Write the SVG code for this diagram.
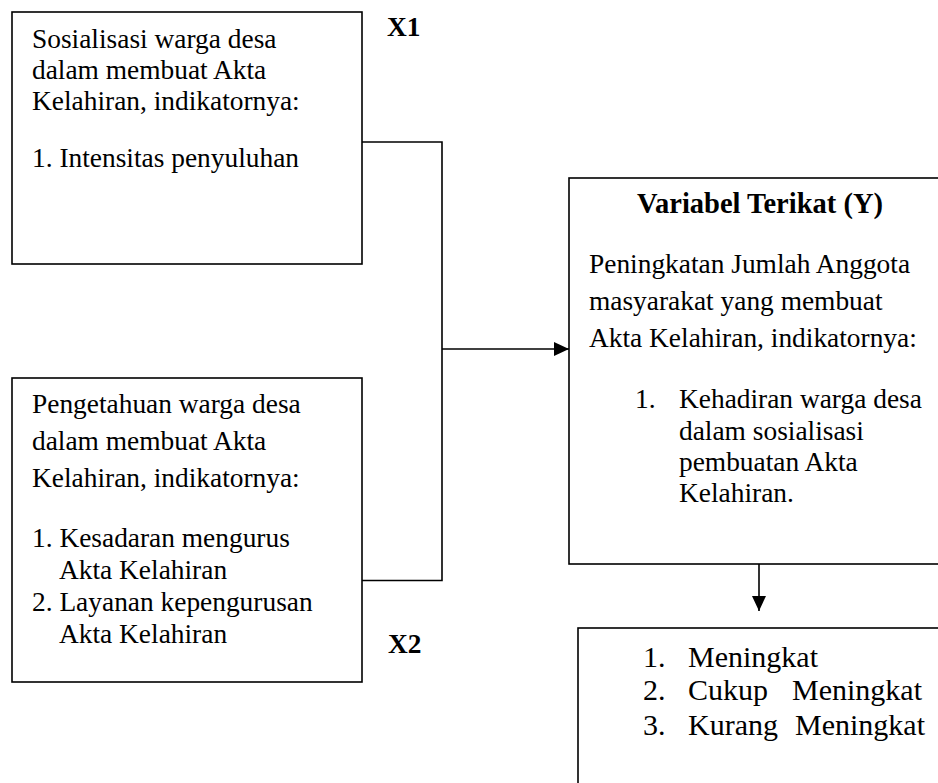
<svg xmlns="http://www.w3.org/2000/svg" width="938" height="783" viewBox="0 0 938 783">
<style>
.box{fill:#fff;stroke:#000;stroke-width:1.6}
.t{font-family:"Liberation Serif","Times New Roman",serif;font-size:27.4px;fill:#000}
.b{font-weight:bold}
.h{font-size:28.5px}
.big{font-size:30px}
.ln{fill:none;stroke:#000;stroke-width:1.6}
</style>
<defs>
<marker id="ah" markerWidth="16" markerHeight="14" refX="15" refY="7" orient="auto" markerUnits="userSpaceOnUse">
<path d="M0,0 L15,7 L0,14 Z" fill="#000"/>
</marker>
</defs>
<rect width="938" height="783" fill="#fff"/>
<g id="connectors">
<path class="ln" d="M362,142 H442 V580.5 H362"/>
<line class="ln" x1="442" y1="349" x2="569" y2="349" marker-end="url(#ah)"/>
<line class="ln" x1="759" y1="564" x2="759" y2="611" marker-end="url(#ah)"/>
</g>
<g id="x1">
<rect class="box" x="12" y="12" width="350" height="252"/>
<text class="t" x="32" y="48">Sosialisasi warga desa</text>
<text class="t" x="32" y="79">dalam membuat Akta</text>
<text class="t" x="32" y="110">Kelahiran, indikatornya:</text>
<text class="t" x="32" y="167">1. Intensitas penyuluhan</text>
</g>
<g id="label-x1"><text class="t b" x="387" y="36">X1</text></g>
<g id="x2">
<rect class="box" x="12" y="378" width="350" height="304"/>
<text class="t" x="32" y="413">Pengetahuan warga desa</text>
<text class="t" x="32" y="450">dalam membuat Akta</text>
<text class="t" x="32" y="487">Kelahiran, indikatornya:</text>
<text class="t" x="32" y="547">1. Kesadaran mengurus</text>
<text class="t" x="59" y="579">Akta Kelahiran</text>
<text class="t" x="32" y="611">2. Layanan kepengurusan</text>
<text class="t" x="59" y="643">Akta Kelahiran</text>
</g>
<g id="label-x2"><text class="t b" x="388" y="653">X2</text></g>
<g id="y">
<rect class="box" x="569" y="178" width="400" height="386"/>
<text class="t b h" x="760" y="213" text-anchor="middle">Variabel Terikat (Y)</text>
<text class="t" x="589" y="273">Peningkatan Jumlah Anggota</text>
<text class="t" x="589" y="310">masyarakat yang membuat</text>
<text class="t" x="589" y="347">Akta Kelahiran, indikatornya:</text>
<text class="t" x="635" y="408">1.</text>
<text class="t" x="679" y="408">Kehadiran warga desa</text>
<text class="t" x="679" y="440">dalam sosialisasi</text>
<text class="t" x="679" y="471">pembuatan Akta</text>
<text class="t" x="679" y="502">Kelahiran.</text>
</g>
<g id="result">
<rect class="box" x="578" y="628" width="400" height="200"/>
<text class="t big" x="643" y="667">1.</text>
<text class="t big" x="688" y="667">Meningkat</text>
<text class="t big" x="643" y="700">2.</text>
<text class="t big" x="688" y="700">Cukup</text>
<text class="t big" x="792" y="700">Meningkat</text>
<text class="t big" x="643" y="735">3.</text>
<text class="t big" x="688" y="735">Kurang</text>
<text class="t big" x="795" y="735">Meningkat</text>
</g>
</svg>
